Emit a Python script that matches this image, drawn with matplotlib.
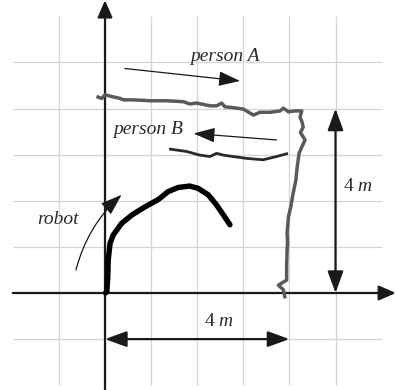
import matplotlib
matplotlib.use('Agg')
import matplotlib.pyplot as plt

plt.rcParams['font.family'] = ['Liberation Serif', 'DejaVu Serif']
plt.rcParams['mathtext.fontset'] = 'custom'
plt.rcParams['mathtext.rm'] = 'Liberation Serif'
plt.rcParams['mathtext.it'] = 'Liberation Serif:italic'

# ── trajectories (metres) ────────────────────────────────────────────────────
person_a_x = [-0.15, -0.07, 0.00, 0.11, 0.33, 0.40, 0.61, 0.98, 1.34, 1.70, 1.84,
              1.99, 2.28, 2.42, 2.53, 2.60, 2.78, 3.00, 3.22, 3.36, 3.58, 3.80,
              3.87, 3.98, 4.12, 4.27, 4.23, 4.27, 4.30, 4.24, 4.34, 4.27, 4.21,
              4.17, 4.14, 4.08, 4.03, 3.98, 3.95, 3.96, 3.95, 3.94, 3.94, 3.76,
              3.87, 3.90]
person_a_y = [4.25, 4.22, 4.30, 4.27, 4.22, 4.19, 4.19, 4.17, 4.17, 4.15, 4.10,
              4.12, 4.06, 4.06, 4.12, 4.04, 4.02, 3.99, 3.86, 3.92, 3.92, 3.95,
              4.01, 3.93, 3.95, 3.95, 3.82, 3.72, 3.60, 3.48, 3.32, 3.17, 3.03,
              2.74, 2.45, 2.16, 1.87, 1.66, 1.30, 1.10, 0.93, 0.57, 0.28, 0.17,
              0.07, -0.08]

person_b_x = [1.42, 1.77, 2.06, 2.28, 2.42, 2.57, 2.78, 3.07, 3.43, 3.72, 3.94]
person_b_y = [3.12, 3.07, 2.99, 2.96, 3.03, 2.99, 2.96, 2.92, 2.89, 2.96, 3.02]

robot_x = [0.01, 0.04, 0.06, 0.07, 0.11, 0.18, 0.36, 0.58, 0.87, 1.16, 1.37,
           1.59, 1.84, 2.02, 2.24, 2.42, 2.57, 2.71]
robot_y = [0.00, 0.03, 0.35, 0.72, 1.08, 1.26, 1.51, 1.69, 1.87, 2.03, 2.20,
           2.29, 2.32, 2.27, 2.13, 1.91, 1.69, 1.48]

grid_ticks = [-1, 0, 1, 2, 3, 4, 5]
grid_span = (-2, 6)

# ── figure ───────────────────────────────────────────────────────────────────
SCALE = 46.1   # pixels per metre in the original
fig = plt.figure(figsize=(3.96, 3.90), dpi=100)
ax = fig.add_axes([0, 0, 1, 1])
ax.set_xlim(-105 / SCALE, 291 / SCALE)
ax.set_ylim(-97 / SCALE, 293 / SCALE)
ax.axis('off')

# grid
ax.vlines(grid_ticks, *grid_span, color='#d4d4d4', lw=0.9, zorder=0)
ax.hlines(grid_ticks, *grid_span, color='#d4d4d4', lw=0.9, zorder=0)

# main axes with arrow heads
ax_kw = dict(arrowstyle='-|>,head_length=0.8,head_width=0.35', lw=1.6,
             color='#1a1a1a', shrinkA=0, shrinkB=0, mutation_scale=13)
ax.annotate('', xy=(6.31, 0), xytext=(-2, 0), arrowprops=ax_kw)
ax.annotate('', xy=(0, 6.35), xytext=(0, -2.1), arrowprops=ax_kw)

# trajectories
ax.plot(person_a_x, person_a_y, color='#5a5a5a', lw=2.5, solid_joinstyle='round',
        zorder=3)
ax.plot(person_b_x, person_b_y, color='#2a2a2a', lw=2.0, solid_joinstyle='round',
        zorder=3)
ax.plot(robot_x, robot_y, color='black', lw=3.9, solid_capstyle='round', zorder=3)

# direction arrows
thin = dict(arrowstyle='-|>,head_length=1.1,head_width=0.38', lw=0.9,
            color='#1a1a1a', shrinkA=0, shrinkB=0, mutation_scale=12)
ax.annotate('', xy=(2.93, 4.60), xytext=(0.43, 4.87), arrowprops=thin)
ax.annotate('', xy=(1.92, 3.46), xytext=(3.72, 3.32), arrowprops=thin)
ax.annotate('', xy=(0.36, 2.13), xytext=(-0.63, 0.50),
            arrowprops=dict(thin, connectionstyle='arc3,rad=-0.15'))

# dimension arrows
dim = dict(arrowstyle='<|-|>,head_length=1.1,head_width=0.4', lw=1.6,
           color='#1a1a1a', shrinkA=0, shrinkB=0, mutation_scale=12)
ax.annotate('', xy=(5, 4), xytext=(5, 0), arrowprops=dim)
ax.annotate('', xy=(4, -1), xytext=(0, -1), arrowprops=dim)

# labels
txt = dict(fontsize=14, color='#2a2a2a', ha='center', va='center')
ax.text(2.60, 5.12, 'person A', style='italic', **txt)
ax.text(0.94, 3.55, 'person B', style='italic', **txt)
ax.text(-1.01, 1.59, 'robot', style='italic', **txt)
ax.text(5.49, 2.30, '4 $m$', **txt)
ax.text(2.48, -0.62, '4 $m$', **txt)

fig.savefig('out.png', dpi=100)
